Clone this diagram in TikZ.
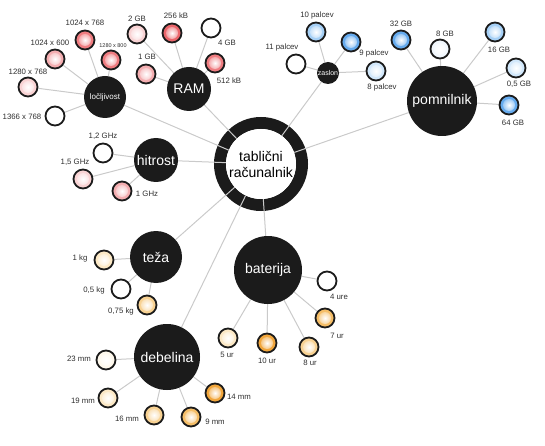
\documentclass[tikz,border=0pt]{standalone}
\usepackage{fontspec}
\setmainfont{Liberation Sans}
\usepackage{xcolor}
\usetikzlibrary{positioning}

\definecolor{hubblack}{HTML}{1B1B1B}
\definecolor{edgegray}{HTML}{CACACA}
\definecolor{labgray}{HTML}{2E2E2E}
\definecolor{red1}{HTML}{F9D3D4}
\definecolor{red2}{HTML}{F4AEB1}
\definecolor{red3}{HTML}{EF7D81}
\definecolor{red4}{HTML}{EA666B}
\definecolor{blue0}{HTML}{F1F7FD}
\definecolor{blue1}{HTML}{D2E8FB}
\definecolor{blue2}{HTML}{A6D0F6}
\definecolor{blue3}{HTML}{66ABEE}
\definecolor{or0}{HTML}{FEF8EC}
\definecolor{or1}{HTML}{FCE9C6}
\definecolor{or2}{HTML}{F8D293}
\definecolor{or3}{HTML}{F5BE68}
\definecolor{or4}{HTML}{F1A63C}

\pgfdeclarelayer{ringlayer}
\pgfdeclarelayer{edgelayer}
\pgfsetlayers{ringlayer,edgelayer,main}

\begin{document}
\begin{tikzpicture}[x=1pt, y=-1pt, every node/.style={align=center},
    hub/.style={circle, fill=hubblack, text=white, inner sep=0pt,
      minimum size=#1, font=\fontsize{14}{16}\selectfont},
    leaf/.style={circle, draw=hubblack, line width=1.8pt, minimum size=19pt,
      inner sep=0pt, fill=#1,
      path picture={\shade[inner color=white, outer color=#1]
        (path picture bounding box.center) circle[radius=6pt];}},
    leafempty/.style={circle, draw=hubblack, line width=1.8pt, minimum size=19pt,
      inner sep=0pt, fill=white},
    lbl/.style={inner sep=0pt, text=labgray, font=\fontsize{7.8}{8}\selectfont},
    edge/.style={draw=edgegray, line width=1pt}]
  \useasboundingbox (0,0) rectangle (545,446);

  % centre
  \node[circle, fill=white, inner sep=0pt, minimum size=70pt,
        font=\fontsize{14}{16}\selectfont] (tab) at (261,164) {tablični\\računalnik};
  \begin{pgfonlayer}{ringlayer}
    \draw[hubblack, line width=12pt] (tab.center) circle[radius=41pt];
  \end{pgfonlayer}

  % hubs
  \node[hub=42pt, font=\fontsize{8}{9}\selectfont] (res) at (105,97) {ločljivost};
  \node[hub=44pt] (ram) at (189,89) {RAM};
  \node[hub=44pt] (cpu) at (156,160) {hitrost};
  \node[hub=22pt, font=\fontsize{7}{8}\selectfont] (scr) at (328,73) {zaslon};
  \node[hub=70pt] (mem) at (442,101) {pomnilnik};
  \node[hub=52pt] (wgt) at (156,257) {teža};
  \node[hub=68pt] (bat) at (268,270) {baterija};
  \node[hub=66pt] (thk) at (167,357) {debelina};

  % ločljivost
  \node[leaf=red3] (res1) at (85,40) {};
  \node[lbl] (res1l) at (85,23) {1024 x 768};
  \node[leaf=red2] (res2) at (55,59) {};
  \node[lbl] (res2l) at (50,43) {1024 x 600};
  \node[leaf=red3] (res3) at (111,60) {};
  \node[lbl, font=\fontsize{5.5}{6}\selectfont] (res3l) at (113,46) {1280 x 800};
  \node[leaf=red1] (res4) at (28,87) {};
  \node[lbl] (res4l) at (28,72) {1280 x 768};
  \node[leafempty] (res5) at (55,116) {};
  \node[lbl] (res5l) at (22,117) {1366 x 768};

  % RAM
  \node[leaf=red1] (ram1) at (137,34) {};
  \node[lbl] (ram1l) at (137,19) {2 GB};
  \node[leaf=red4] (ram2) at (172,33) {};
  \node[lbl] (ram2l) at (176,16) {256 kB};
  \node[leafempty] (ram3) at (211,28) {};
  \node[lbl] (ram3l) at (227,43) {4 GB};
  \node[leaf=red3] (ram4) at (215,63) {};
  \node[lbl] (ram4l) at (229,81) {512 kB};
  \node[leaf=red2] (ram5) at (146,74) {};
  \node[lbl] (ram5l) at (147,57) {1 GB};

  % hitrost
  \node[leafempty] (cpu1) at (103,153) {};
  \node[lbl] (cpu1l) at (103,136) {1,2 GHz};
  \node[leaf=red1] (cpu2) at (83,179) {};
  \node[lbl] (cpu2l) at (75,162) {1,5 GHz};
  \node[leaf=red2] (cpu3) at (122,191) {};
  \node[lbl] (cpu3l) at (147,194) {1 GHz};

  % zaslon
  \node[leaf=blue2] (scr1) at (316,32) {};
  \node[lbl] (scr1l) at (317,15) {10 palcev};
  \node[leaf=blue3] (scr2) at (351,42) {};
  \node[lbl] (scr2l) at (374,53) {9 palcev};
  \node[leafempty] (scr3) at (296,64) {};
  \node[lbl] (scr3l) at (282,47) {11 palcev};
  \node[leaf=blue1] (scr4) at (376,71) {};
  \node[lbl] (scr4l) at (382,87) {8 palcev};

  % pomnilnik
  \node[leaf=blue3] (mem1) at (401,40) {};
  \node[lbl] (mem1l) at (401,24) {32 GB};
  \node[leaf=blue0] (mem2) at (440,49) {};
  \node[lbl] (mem2l) at (445,34) {8 GB};
  \node[leaf=blue2] (mem3) at (495,32) {};
  \node[lbl] (mem3l) at (499,50) {16 GB};
  \node[leaf=blue1] (mem4) at (516,68) {};
  \node[lbl] (mem4l) at (519,84) {0,5 GB};
  \node[leaf=blue3] (mem5) at (509,105) {};
  \node[lbl] (mem5l) at (513,123) {64 GB};

  % teža
  \node[leaf=or1] (wgt1) at (104,260) {};
  \node[lbl] (wgt1l) at (80,258) {1 kg};
  \node[leafempty] (wgt2) at (121,289) {};
  \node[lbl] (wgt2l) at (94,290) {0,5 kg};
  \node[leaf=or2] (wgt3) at (147,305) {};
  \node[lbl] (wgt3l) at (121,311) {0,75 kg};

  % baterija
  \node[leafempty] (bat1) at (327,281) {};
  \node[lbl] (bat1l) at (339,297) {4 ure};
  \node[leaf=or3] (bat2) at (325,318) {};
  \node[lbl] (bat2l) at (337,336) {7 ur};
  \node[leaf=or2] (bat3) at (309,347) {};
  \node[lbl] (bat3l) at (310,363) {8 ur};
  \node[leaf=or4] (bat4) at (267,343) {};
  \node[lbl] (bat4l) at (267,361) {10 ur};
  \node[leaf=or1] (bat5) at (228,338) {};
  \node[lbl] (bat5l) at (227,355) {5 ur};

  % debelina
  \node[leaf=or0] (thk1) at (106,360) {};
  \node[lbl] (thk1l) at (79,359) {23 mm};
  \node[leaf=or1] (thk2) at (108,398) {};
  \node[lbl] (thk2l) at (83,401) {19 mm};
  \node[leaf=or2] (thk3) at (154,415) {};
  \node[lbl] (thk3l) at (127,419) {16 mm};
  \node[leaf=or3] (thk4) at (191,417) {};
  \node[lbl] (thk4l) at (215,422) {9 mm};
  \node[leaf=or4] (thk5) at (215,393) {};
  \node[lbl] (thk5l) at (239,397) {14 mm};

  \begin{pgfonlayer}{edgelayer}
    \draw[edge] (tab) -- (res) (tab) -- (ram) (tab) -- (cpu) (tab) -- (scr)
                (tab) -- (mem) (tab) -- (wgt) (tab) -- (bat) (tab) -- (thk);
    \draw[edge] (res) -- (res1) (res) -- (res2) (res) -- (res3) (res) -- (res4) (res) -- (res5);
    \draw[edge] (ram) -- (ram1) (ram) -- (ram2) (ram) -- (ram3) (ram) -- (ram4) (ram) -- (ram5);
    \draw[edge] (cpu) -- (cpu1) (cpu) -- (cpu2) (cpu) -- (cpu3);
    \draw[edge] (scr) -- (scr1) (scr) -- (scr2) (scr) -- (scr3) (scr) -- (scr4);
    \draw[edge] (mem) -- (mem1) (mem) -- (mem2) (mem) -- (mem3) (mem) -- (mem4) (mem) -- (mem5);
    \draw[edge] (wgt) -- (wgt1) (wgt) -- (wgt2) (wgt) -- (wgt3);
    \draw[edge] (bat) -- (bat1) (bat) -- (bat2) (bat) -- (bat3) (bat) -- (bat4) (bat) -- (bat5);
    \draw[edge] (thk) -- (thk1) (thk) -- (thk2) (thk) -- (thk3) (thk) -- (thk4) (thk) -- (thk5);
  \end{pgfonlayer}
\end{tikzpicture}
\end{document}
